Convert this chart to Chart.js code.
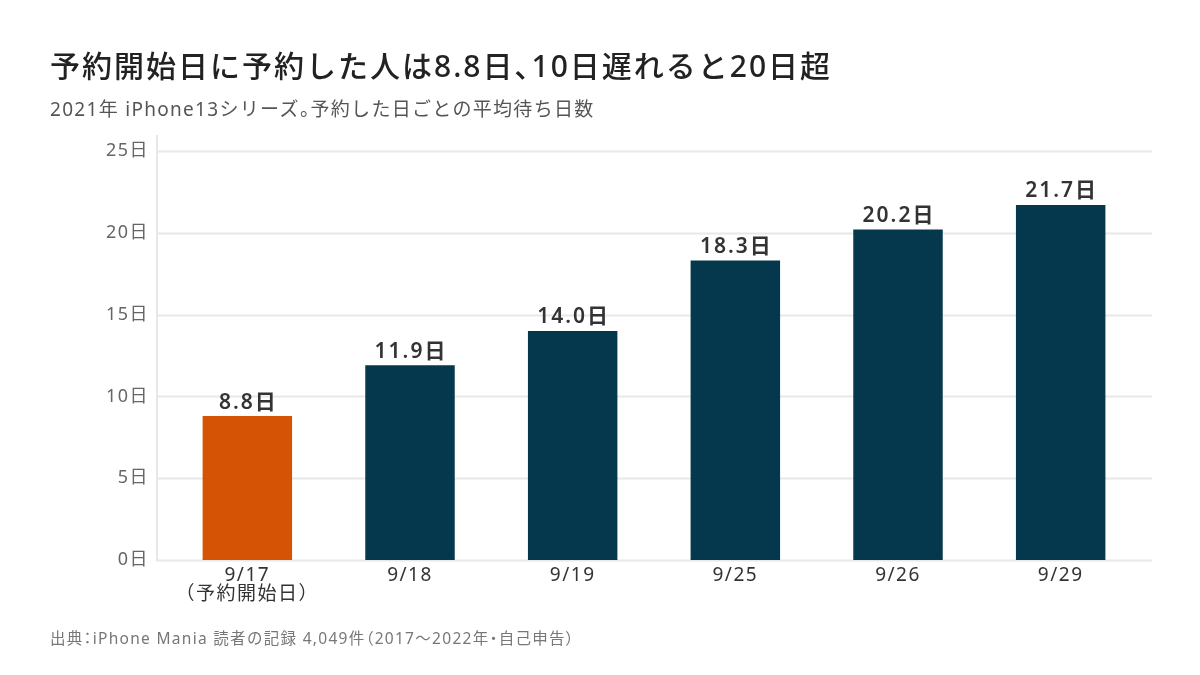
<!DOCTYPE html>
<html>
<head>
<meta charset="utf-8">
<script src="https://cdn.jsdelivr.net/npm/chart.js@4"></script>
<style>
  body { margin: 0; background: #fff; font-family: "Noto Sans", "Noto Sans CJK JP", sans-serif; }
  #wrap { position: relative; width: 1200px; height: 675px; }
  #chart { position: absolute; left: 0; top: 0; }
  .t { position: absolute; left: 50px; white-space: nowrap; }
  #title { top: 42px; font-size: 30px; font-weight: 500; color: #222; letter-spacing: 2px; }
  #sub { top: 94px; font-size: 19px; color: #555; letter-spacing: 1.3px; }
  #src { top: 626px; font-size: 15.5px; color: #777; letter-spacing: 1.3px; }
  .p { font-feature-settings: "palt"; }
</style>
</head>
<body>
<div id="wrap">
  <canvas id="chart" width="1200" height="675"></canvas>
  <div class="t" id="title">予約開始日に予約した人は8.8日<span class="p">、</span>10日遅れると20日超</div>
  <div class="t" id="sub">2021年 iPhone13シリーズ<span class="p">。</span>予約した日ごとの平均待ち日数</div>
  <div class="t" id="src">出典<span class="p">：</span>iPhone Mania 読者の記録 4,049件<span class="p">（</span>2017～2022年<span class="p">・</span>自己申告<span class="p">）</span></div>
</div>
<script>
var labels = [['9/17', '（予約開始日）'], '9/18', '9/19', '9/25', '9/26', '9/29'];
var waitDays = [8.8, 11.9, 14.0, 18.3, 20.2, 21.7];
var barColors = ['#d45304', '#05384c', '#05384c', '#05384c', '#05384c', '#05384c'];
var yTicks = [0, 5, 10, 15, 20, 25];

var font = '"Noto Sans", "Noto Sans CJK JP", sans-serif';

// slightly spaced-out text everywhere on the canvas
var spacingPlugin = {
  id: 'spacing',
  beforeDraw: function (chart) { chart.ctx.letterSpacing = '1.5px'; }
};

// grid lines drawn a bit wider than the plot area, like the original
var gridPlugin = {
  id: 'grid',
  beforeDatasetsDraw: function (chart) {
    var ctx = chart.ctx, y = chart.scales.y, a = chart.chartArea;
    ctx.save();
    ctx.strokeStyle = '#e8e8e8';
    ctx.lineWidth = 2;
    yTicks.forEach(function (v) {
      var py = Math.round(y.getPixelForValue(v)) + 0.5;
      ctx.beginPath();
      ctx.moveTo(a.left - 9, py);
      ctx.lineTo(a.right + 10, py);
      ctx.stroke();
    });
    ctx.beginPath();
    ctx.moveTo(a.left - 9, y.getPixelForValue(25) - 16);
    ctx.lineTo(a.left - 9, y.getPixelForValue(0) + 1);
    ctx.stroke();
    ctx.restore();
  }
};

var labelPlugin = {
  id: 'valueLabels',
  afterDatasetsDraw: function (chart) {
    var ctx = chart.ctx;
    var meta = chart.getDatasetMeta(0);
    ctx.save();
    ctx.font = '600 21px ' + font;
    ctx.letterSpacing = '2px';
    ctx.fillStyle = '#333';
    ctx.textAlign = 'center';
    ctx.textBaseline = 'bottom';
    meta.data.forEach(function (bar, i) {
      ctx.fillText(waitDays[i].toFixed(1) + '日', bar.x + 1, bar.y - 3);
    });
    ctx.restore();
  }
};

new Chart(document.getElementById('chart'), {
  type: 'bar',
  data: {
    labels: labels,
    datasets: [{
      data: waitDays,
      backgroundColor: barColors,
      barPercentage: 0.55,
      categoryPercentage: 1.0
    }]
  },
  options: {
    responsive: false,
    animation: false,
    layout: { padding: { top: 151, right: 58, bottom: 55, left: 0 } },
    plugins: { legend: { display: false }, tooltip: { enabled: false } },
    scales: {
      x: {
        grid: { display: false, drawTicks: false },
        border: { display: false },
        ticks: { color: '#333', font: { family: font, size: 19, lineHeight: 1.0 }, padding: 6, maxRotation: 0 },
        afterFit: function (s) { s.height = 60; }
      },
      y: {
        min: 0, max: 25,
        grid: { display: false, drawTicks: false },
        border: { display: false },
        ticks: {
          stepSize: 5,
          color: '#666',
          padding: 17,
          font: { family: font, size: 18 },
          callback: function (v) { return v + '日'; }
        },
        afterFit: function (s) { s.width = 166; }
      }
    }
  },
  plugins: [spacingPlugin, gridPlugin, labelPlugin]
});
</script>
</body>
</html>
